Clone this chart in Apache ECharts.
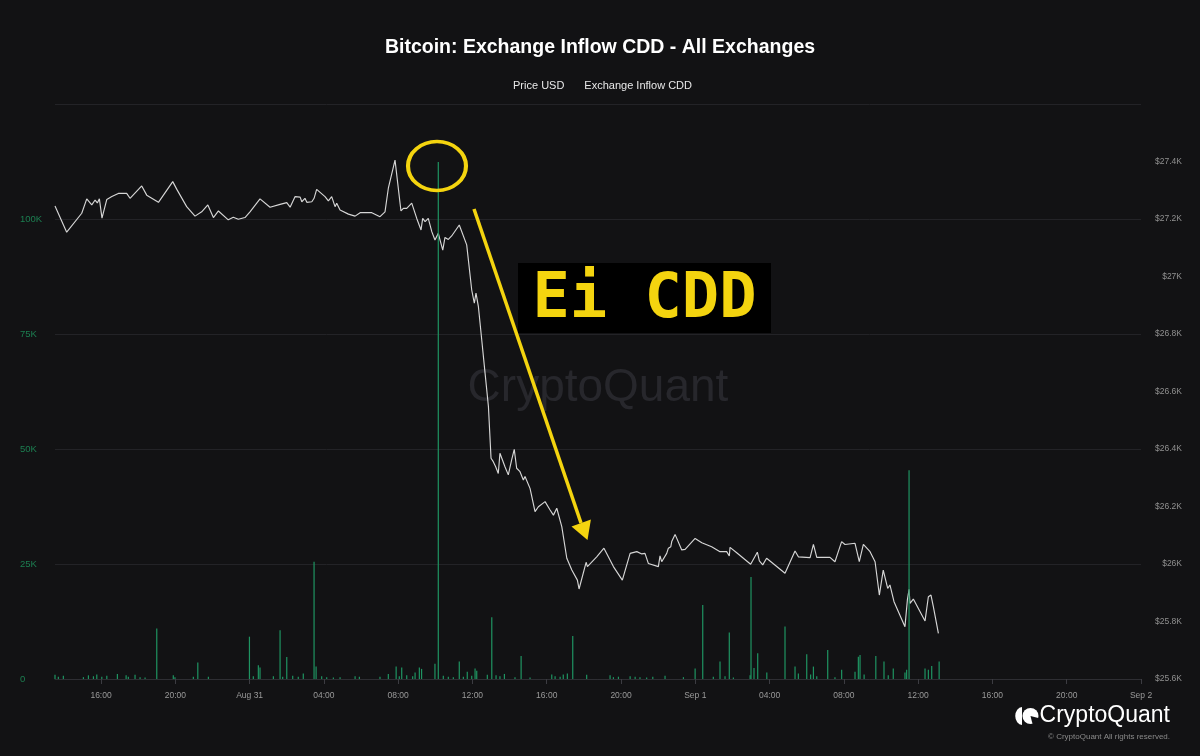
<!DOCTYPE html>
<html>
<head>
<meta charset="utf-8">
<script src="https://cdn.jsdelivr.net/npm/echarts@6/dist/echarts.min.js"></script>
<style>
html,body{margin:0;padding:0;background:#121214;}
#chart{width:1200px;height:756px;}
</style>
</head>
<body>
<div id="chart"></div>
<script>
// Hours since Aug 30 00:00
const priceHours = [13.52,14.15,14.96,15.23,15.50,15.68,15.80,15.91,16.05,16.31,
16.58,16.93,17.38,17.56,18.19,18.46,19.09,19.86,20.08,20.61,
21.06,21.42,21.75,22.05,22.32,22.85,23.12,23.39,23.75,24.02,
24.56,25.10,25.64,26.00,26.18,26.45,26.72,26.81,26.98,27.08,
27.35,27.47,27.61,28.06,28.24,28.42,28.60,28.69,28.87,29.32,
29.68,29.95,30.58,31.02,31.29,31.47,31.83,32.15,32.28,32.46,
32.73,33.00,33.23,33.32,33.45,33.62,33.81,33.98,34.16,34.40,
34.52,34.70,34.88,35.29,35.69,35.96,36.10,36.19,36.32,36.50,
36.68,36.86,37.00,37.12,37.25,37.39,37.48,37.75,37.93,38.11,
38.25,38.38,38.56,38.74,38.83,39.10,39.37,39.55,39.91,40.18,
40.36,40.54,40.81,41.08,41.35,41.65,41.74,42.12,42.19,42.69,
43.08,43.59,44.07,44.49,44.85,45.12,45.29,45.47,46.01,46.10,
46.19,46.28,46.46,46.55,46.68,46.73,46.91,47.27,47.45,47.99,
48.35,48.88,49.33,49.69,49.83,49.87,50.23,50.98,51.34,51.45,
51.63,51.84,52.83,53.37,53.55,54.18,54.36,54.54,55.25,55.52,
55.70,55.88,56.06,56.60,56.83,57.05,57.41,57.68,57.91,58.12,
58.36,58.48,58.70,59.29,59.42,59.51,59.56,59.74,60.37,60.55,
60.69,60.82,61.09];
const priceValues = [27245,27154,27220,27270,27249,27266,27256,27270,27203,27268,
27278,27289,27289,27272,27315,27283,27258,27330,27303,27243,
27210,27225,27249,27205,27228,27197,27206,27199,27205,27225,
27270,27241,27251,27257,27241,27278,27276,27260,27272,27258,
27260,27272,27303,27278,27263,27278,27243,27255,27231,27217,
27210,27222,27222,27208,27225,27307,27405,27228,27237,27237,
27255,27202,27162,27202,27191,27202,27156,27127,27150,27092,
27136,27129,27141,27179,27110,26953,26907,26942,26895,26779,
26663,26547,26368,26356,26338,26315,26385,26338,26310,26362,
26399,26333,26321,26292,26304,26263,26182,26199,26217,26188,
26170,26194,26130,26020,25979,25944,25913,26006,25991,26025,
26055,25991,25944,26037,26043,26035,26037,26002,25991,26028,
26008,26011,26037,26055,26060,26078,26103,26049,26051,26089,
26074,26060,26043,26043,26028,26058,26039,25999,26041,26011,
25997,26020,25968,26045,26025,26022,26068,26023,26023,26008,
26043,26078,26068,26072,26008,26068,26043,26008,25892,25979,
25915,25927,25869,25782,25875,25912,25863,25878,25802,25886,
25892,25851,25759];

const cddHours = [13.52,13.70,13.97,15.05,15.32,15.59,15.77,16.04,16.31,16.88,
17.35,17.47,17.83,18.10,18.37,19.00,19.89,19.98,20.97,21.21,
21.78,23.99,24.20,24.47,24.56,25.28,25.64,25.78,26.00,26.32,
26.62,26.89,27.47,27.58,27.88,28.15,28.51,28.87,29.68,29.91,
31.02,31.47,31.89,32.06,32.19,32.46,32.78,32.91,33.14,33.26,
33.98,34.16,34.43,34.70,34.97,35.29,35.51,35.72,35.96,36.14,
36.23,36.80,37.04,37.27,37.48,37.72,38.29,38.62,39.10,40.27,
40.45,40.72,40.89,41.11,41.40,42.15,43.41,43.59,43.86,44.49,
44.76,45.02,45.38,45.71,46.37,47.36,47.99,48.40,48.97,49.33,
49.60,49.83,50.05,50.95,51.00,51.16,51.36,51.85,52.83,53.37,
53.55,54.00,54.21,54.36,54.54,55.13,55.52,55.88,56.60,56.78,
56.87,57.09,57.72,58.16,58.39,58.66,59.29,59.38,59.51,60.37,
60.55,60.73,61.13];
const cddValues = [900,500,700,400,800,600,1000,500,700,1100,
800,500,900,400,300,11000,800,400,500,3600,
500,9200,600,3000,2500,600,10600,500,4800,700,
500,1200,25500,2700,600,400,300,400,600,500,
500,1100,2700,600,2500,800,600,1400,2500,2200,
3300,112400,700,500,400,3800,500,1600,700,2300,
1800,900,13400,800,600,1100,400,5000,300,1000,
600,500,1000,1200,9350,900,800,400,500,600,
500,400,300,500,700,400,2300,16100,500,3800,
600,10100,300,800,22200,2400,5600,1400,11400,2700,
1200,5400,1000,2700,600,6300,400,2000,1600,4850,
5200,1000,5000,3800,800,2300,1400,2000,45400,2300,
2000,2800,3800];

const xTickHours = [16,20,24,28,32,36,40,44,48,52,56,60,64,68,72];
const xTickLabels = ['16:00','20:00','Aug 31','04:00','08:00','12:00','16:00','20:00','Sep 1','04:00','08:00','12:00','16:00','20:00','Sep 2'];

const priceData = priceHours.map((h,i)=>[h, priceValues[i]]);
const cddData = cddHours.map((h,i)=>[h, cddValues[i]]);

const YEL = '#f4d40f';
const chart = echarts.init(document.getElementById('chart'), null, {renderer:'canvas'});
const FONT = '"Liberation Sans", Arial, sans-serif';

chart.setOption({
  backgroundColor: '#121214',
  animation: false,
  textStyle: {fontFamily: FONT},
  title: {
    text: 'Bitcoin: Exchange Inflow CDD - All Exchanges',
    left: 'center', top: 33,
    textStyle: {color:'#ffffff', fontSize:19.5, fontWeight:'bold', fontFamily: FONT}
  },
  legend: {
    top: 75, left: 'center',
    itemWidth: 0, itemHeight: 0, itemGap: 15,
    icon: 'rect',
    textStyle: {color:'#e8e8e8', fontSize:11, fontFamily: FONT},
    data: ['Price USD','Exchange Inflow CDD']
  },
  grid: {left:55, right:59, top:104, bottom:77, containLabel:false},
  xAxis: {
    type:'value', min: priceHours[0], max: 72,
    axisLine: {show:true, lineStyle:{color:'#2e2e33'}},
    axisTick: {show:true, length:5, lineStyle:{color:'#3c3c42'}, customValues: xTickHours},
    axisLabel: {
      customValues: xTickHours, color:'#9a9a9a', fontSize:8.5, margin:12,
      formatter: v => { const i = xTickHours.indexOf(Math.round(v)); return i>=0 ? xTickLabels[i] : ''; }
    },
    splitLine: {show:false}
  },
  yAxis: [
    {
      type:'value', min:0, max:125000, interval:25000, position:'left',
      axisLine:{show:false}, axisTick:{show:false},
      axisLabel:{color:'#1c7f51', fontSize:9.5, align:'left', margin:35,
        formatter: v => v===0 ? '0' : (v>=125000 ? '' : (v/1000)+'K')},
      splitLine:{show:true, lineStyle:{color:'#232327', width:1}}
    },
    {
      type:'value', min:25600, max:27600, interval:200, position:'right',
      axisLine:{show:false}, axisTick:{show:false},
      axisLabel:{color:'#909090', fontSize:8.5, align:'right', margin:41,
        formatter: v => v>=27600 ? '' : '$' + (v/1000) + 'K'},
      splitLine:{show:false}
    }
  ],
  series: [
    {
      name:'Price USD', type:'line', yAxisIndex:1, data: priceData,
      showSymbol:false, symbol:'none',
      lineStyle:{color:'#d6d6d6', width:1.15}, itemStyle:{color:'#d6d6d6'}, z:2
    },
    {
      name:'Exchange Inflow CDD', type:'bar', yAxisIndex:0, data: cddData,
      barWidth:1.2, itemStyle:{color:'#1f9462'}, z:3
    }
  ],
  graphic: [
    {type:'text', x:598, y:388, z:0, silent:true,
     style:{text:'CryptoQuant', fill:'#27272c', font:'46px "Liberation Sans", Arial, sans-serif',
       align:'center', verticalAlign:'middle', textAlign:'center', textVerticalAlign:'middle'}},
    // annotations
    {type:'circle', x:437, y:166, scaleX:29/24.5, z:100, shape:{cx:0, cy:0, r:24.5},
     style:{fill:'none', stroke:YEL, lineWidth:3.5, strokeNoScale:true}},
    {type:'line', z:100, shape:{x1:474, y1:209, x2:581, y2:523}, style:{stroke:YEL, lineWidth:3.5}},
    {type:'polygon', z:100, shape:{points:[[587.5,540],[571.5,526.5],[590.9,519.6]]}, style:{fill:YEL}},
    {type:'rect', z:100, shape:{x:518, y:263, width:253, height:70}, style:{fill:'#000000'}},
    {type:'text', x:644.5, y:301, z:101,
     style:{text:'Ei CDD', fill:YEL, font:'bold 62px "DejaVu Sans Mono", monospace',
       align:'center', verticalAlign:'middle', textAlign:'center', textVerticalAlign:'middle'}},
    // bottom-right brand
    {type:'sector', z:100, x:1022, y:716, scaleX:0.75,
     shape:{cx:0, cy:0, r:9, r0:0, startAngle:Math.PI/2, endAngle:Math.PI*1.5},
     style:{fill:'#ffffff'}},
    {type:'circle', z:100, shape:{cx:1030.5, cy:716, r:8}, style:{fill:'#ffffff'}},
    {type:'sector', z:101, shape:{cx:1030.5, cy:716, r:9, r0:0, startAngle:Math.PI*0.08, endAngle:Math.PI*0.42},
     style:{fill:'#121214'}},
    {type:'text', x:1170, y:716, z:100,
     style:{text:'CryptoQuant', fill:'#ffffff', font:'23px "Liberation Sans", Arial, sans-serif',
       align:'right', verticalAlign:'middle', textAlign:'right', textVerticalAlign:'middle'}},
    {type:'text', x:1170, y:737, z:100,
     style:{text:'\u00a9 CryptoQuant All rights reserved.', fill:'#8a8a8a', font:'8px "Liberation Sans", Arial, sans-serif',
       align:'right', verticalAlign:'middle', textAlign:'right', textVerticalAlign:'middle'}}
  ]
});
</script>
</body>
</html>
